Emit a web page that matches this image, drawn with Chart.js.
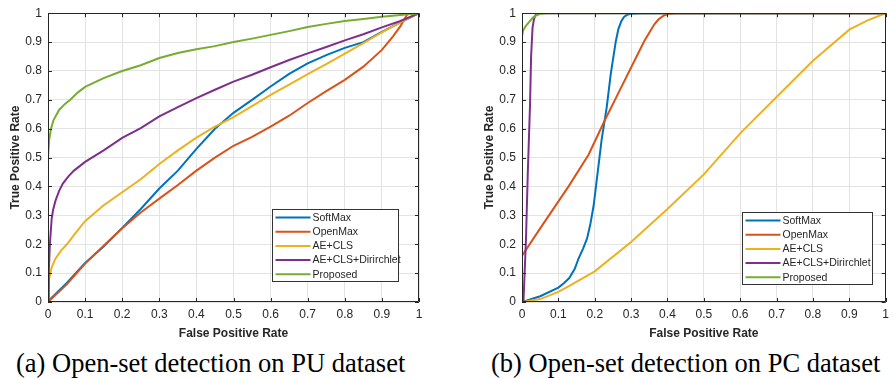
<!DOCTYPE html>
<html>
<head>
<meta charset="utf-8">
<script src="https://cdn.jsdelivr.net/npm/chart.js@4.4.1/dist/chart.umd.min.js"></script>
<style>
  body { margin: 0; background: #fff; width: 894px; height: 378px; overflow: hidden; position: relative; }
  .panel { position: absolute; top: 0; height: 345px; }
  .caption { position: absolute; top: 348px; font-family: "Liberation Serif", serif; font-size: 26.5px; color: #000; white-space: nowrap; }
</style>
</head>
<body>
<div class="panel" style="left:0; width:430px;"><canvas id="chartPU"></canvas></div>
<div class="panel" style="left:474px; width:420px;"><canvas id="chartPC"></canvas></div>
<div class="caption" style="left:16px;">(a) Open-set detection on PU dataset</div>
<div class="caption" style="left:491px;">(b) Open-set detection on PC dataset</div>

<script>
// Series names and axis tick labels
const seriesNames = ['SoftMax', 'OpenMax', 'AE+CLS', 'AE+CLS+Dirirchlet', 'Proposed'];
const tickLabels = ['0', '0.1', '0.2', '0.3', '0.4', '0.5', '0.6', '0.7', '0.8', '0.9', '1'];
const lineColors = ['#0072BD', '#D95319', '#EDB120', '#7E2F8E', '#77AC30'];

// (a) PU dataset - false positive rate / true positive rate
const puSoftmaxFpr = [0, 0.01, 0.05, 0.1, 0.15, 0.2, 0.25, 0.3, 0.35, 0.4, 0.45, 0.5, 0.55, 0.6, 0.65, 0.7, 0.75, 0.8, 0.85, 0.9, 0.95, 1];
const puSoftmaxTpr = [0, 0.015, 0.065, 0.135, 0.192, 0.256, 0.322, 0.393, 0.455, 0.53, 0.6, 0.655, 0.7, 0.746, 0.79, 0.826, 0.855, 0.88, 0.9, 0.935, 0.968, 1];

const puOpenmaxFpr = [0, 0.05, 0.1, 0.15, 0.2, 0.25, 0.3, 0.35, 0.4, 0.45, 0.5, 0.55, 0.6, 0.65, 0.7, 0.75, 0.8, 0.85, 0.9, 0.93, 0.95, 0.97, 1];
const puOpenmaxTpr = [0, 0.06, 0.133, 0.195, 0.255, 0.31, 0.358, 0.405, 0.455, 0.5, 0.541, 0.572, 0.607, 0.645, 0.689, 0.73, 0.769, 0.815, 0.873, 0.92, 0.955, 1, 1];

const puAeFpr = [0, 0.003, 0.01, 0.02, 0.035, 0.05, 0.075, 0.1, 0.15, 0.2, 0.25, 0.3, 0.35, 0.4, 0.45, 0.5, 0.55, 0.6, 0.65, 0.7, 0.75, 0.8, 0.85, 0.9, 0.95, 1];
const puAeTpr = [0, 0.08, 0.12, 0.15, 0.178, 0.198, 0.24, 0.28, 0.335, 0.38, 0.425, 0.478, 0.525, 0.569, 0.607, 0.64, 0.678, 0.717, 0.753, 0.789, 0.824, 0.86, 0.896, 0.934, 0.968, 1];

const puDirFpr = [0, 0.002, 0.005, 0.01, 0.014, 0.02, 0.03, 0.04, 0.055, 0.07, 0.1, 0.15, 0.2, 0.25, 0.3, 0.35, 0.4, 0.45, 0.5, 0.55, 0.6, 0.65, 0.7, 0.75, 0.8, 0.85, 0.9, 0.95, 1];
const puDirTpr = [0, 0.1, 0.2, 0.29, 0.32, 0.35, 0.385, 0.41, 0.435, 0.455, 0.485, 0.525, 0.568, 0.602, 0.643, 0.675, 0.706, 0.735, 0.763, 0.787, 0.813, 0.838, 0.861, 0.883, 0.906, 0.927, 0.951, 0.973, 1];

const puProposedFpr = [0, 0, 0.003, 0.008, 0.015, 0.03, 0.045, 0.06, 0.08, 0.1, 0.15, 0.2, 0.25, 0.3, 0.35, 0.4, 0.45, 0.5, 0.55, 0.6, 0.65, 0.7, 0.75, 0.8, 0.85, 0.9, 0.95, 1];
const puProposedTpr = [0, 0.5, 0.56, 0.6, 0.63, 0.665, 0.685, 0.7, 0.725, 0.745, 0.775, 0.8, 0.82, 0.845, 0.862, 0.875, 0.886, 0.9, 0.912, 0.925, 0.938, 0.952, 0.963, 0.973, 0.98, 0.988, 0.994, 1];

// (b) PC dataset
const pcSoftmaxFpr = [0, 0.05, 0.1, 0.115, 0.13, 0.145, 0.156, 0.168, 0.179, 0.188, 0.197, 0.208, 0.219, 0.233, 0.244, 0.258, 0.265, 0.273, 0.28, 0.288, 0.296, 0.31, 0.33, 1];
const pcSoftmaxTpr = [0, 0.02, 0.05, 0.065, 0.083, 0.115, 0.152, 0.185, 0.22, 0.27, 0.334, 0.448, 0.562, 0.675, 0.789, 0.903, 0.945, 0.972, 0.986, 0.994, 0.997, 0.999, 1, 1];

const pcOpenmaxFpr = [0, 0, 0.05, 0.129, 0.183, 0.228, 0.255, 0.3, 0.336, 0.363, 0.375, 0.39, 0.405, 0.426, 1];
const pcOpenmaxTpr = [0, 0.16, 0.255, 0.402, 0.51, 0.63, 0.698, 0.812, 0.903, 0.96, 0.978, 0.992, 0.998, 1, 1];

const pcAeFpr = [0, 0.05, 0.1, 0.129, 0.2, 0.3, 0.4, 0.5, 0.6, 0.7, 0.8, 0.9, 0.95, 1];
const pcAeTpr = [0, 0.01, 0.035, 0.055, 0.106, 0.208, 0.322, 0.442, 0.584, 0.71, 0.835, 0.943, 0.975, 1];

const pcDirFpr = [0, 0.004, 0.011, 0.016, 0.022, 0.025, 0.029, 0.033, 0.038, 0.05, 1];
const pcDirTpr = [0, 0, 0.22, 0.45, 0.68, 0.85, 0.95, 0.98, 0.995, 1, 1];

const pcProposedFpr = [0, 0, 0.003, 0.01, 0.02, 0.03, 0.04, 0.05, 0.07, 1];
const pcProposedTpr = [0, 0.92, 0.94, 0.955, 0.97, 0.985, 0.993, 0.998, 1, 1];

const puSeries = [[puSoftmaxFpr, puSoftmaxTpr], [puOpenmaxFpr, puOpenmaxTpr], [puAeFpr, puAeTpr], [puDirFpr, puDirTpr], [puProposedFpr, puProposedTpr]];
const pcSeries = [[pcSoftmaxFpr, pcSoftmaxTpr], [pcOpenmaxFpr, pcOpenmaxTpr], [pcAeFpr, pcAeTpr], [pcDirFpr, pcDirTpr], [pcProposedFpr, pcProposedTpr]];

const axisColor = '#262626';

// Box around the axes, inward ticks and legend box (MATLAB look)
const matlabFrame = {
    id: 'matlabFrame',
    afterDatasetsDraw(chart, args, opts) {
        const ctx = chart.ctx;
        const a = chart.chartArea;
        const sx = chart.scales.x, sy = chart.scales.y;
        ctx.save();
        ctx.strokeStyle = axisColor;
        ctx.lineWidth = 1;
        ctx.beginPath();
        ctx.rect(Math.round(a.left) + 0.5, Math.round(a.top) + 0.5, Math.round(a.right - a.left) - 1, Math.round(a.bottom - a.top) - 1);
        sx.ticks.forEach(t => {
            const x = Math.round(sx.getPixelForValue(t.value)) + 0.5;
            ctx.moveTo(x, a.bottom); ctx.lineTo(x, a.bottom - 4);
            ctx.moveTo(x, a.top); ctx.lineTo(x, a.top + 4);
        });
        sy.ticks.forEach(t => {
            const y = Math.round(sy.getPixelForValue(t.value)) + 0.5;
            ctx.moveTo(a.left, y); ctx.lineTo(a.left + 4, y);
            ctx.moveTo(a.right, y); ctx.lineTo(a.right - 4, y);
        });
        ctx.stroke();

        // legend
        const bx = Math.round(a.left + opts.x) + 0.5;
        const by = Math.round(a.top + opts.y) + 0.5;
        ctx.fillStyle = '#fff';
        ctx.fillRect(bx, by, opts.w, opts.h);
        ctx.strokeStyle = '#333';
        ctx.strokeRect(bx, by, opts.w, opts.h);
        ctx.font = '10.5px "Liberation Sans", Arial, sans-serif';
        ctx.textBaseline = 'middle';
        chart.data.datasets.forEach((ds, i) => {
            const ry = by + 8 + i * 14.2;
            ctx.strokeStyle = ds.borderColor;
            ctx.lineWidth = 2;
            ctx.beginPath();
            ctx.moveTo(bx + 3, ry); ctx.lineTo(bx + 38, ry);
            ctx.stroke();
            ctx.fillStyle = axisColor;
            ctx.fillText(ds.label, bx + 40, ry + 0.5);
        });
        ctx.restore();
    }
};

function makeChart(canvasId, series, padTop, padRight, legendBox) {
    const datasets = series.map((s, i) => ({
        label: seriesNames[i],
        data: s[0].map((x, k) => ({ x: x, y: s[1][k] })),
        borderColor: lineColors[i],
        borderWidth: 2,
        pointRadius: 0,
        tension: 0,
        fill: false,
        order: series.length - i
    }));

    return new Chart(document.getElementById(canvasId), {
        type: 'line',
        data: { datasets: datasets },
        plugins: [matlabFrame],
        options: {
            responsive: true,
            maintainAspectRatio: false,
            animation: false,
            devicePixelRatio: 1,
            layout: { autoPadding: false, padding: { top: padTop, right: padRight, bottom: 3, left: 0 } },
            plugins: {
                legend: { display: false },
                tooltip: { enabled: false },
                matlabFrame: legendBox
            },
            scales: {
                x: {
                    type: 'linear',
                    min: 0,
                    max: 1,
                    afterFit: scale => { scale.height = 40; },
                    border: { display: false },
                    grid: { color: '#e3e3e3', drawTicks: false },
                    ticks: {
                        stepSize: 0.1,
                        padding: 5,
                        maxRotation: 0,
                        color: axisColor,
                        font: { family: '"Liberation Sans", Arial, sans-serif', size: 12 },
                        callback: (v, i) => tickLabels[i]
                    },
                    title: {
                        display: true,
                        text: 'False Positive Rate',
                        color: axisColor,
                        font: { family: '"Liberation Sans", Arial, sans-serif', size: 12, weight: 'bold' },
                        padding: { top: 0, bottom: 1 }
                    }
                },
                y: {
                    type: 'linear',
                    min: 0,
                    max: 1,
                    afterFit: scale => { scale.width = 48; },
                    border: { display: false },
                    grid: { color: '#e3e3e3', drawTicks: false },
                    ticks: {
                        stepSize: 0.1,
                        padding: 6,
                        color: axisColor,
                        font: { family: '"Liberation Sans", Arial, sans-serif', size: 12 },
                        callback: (v, i) => tickLabels[i]
                    },
                    title: {
                        display: true,
                        text: 'True Positive Rate',
                        color: axisColor,
                        font: { family: '"Liberation Sans", Arial, sans-serif', size: 12, weight: 'bold' },
                        padding: { top: 8, bottom: 0 }
                    }
                }
            }
        }
    });
}

makeChart('chartPU', puSeries, 9, 11, { x: 224, y: 196, w: 126, h: 72 });
makeChart('chartPC', pcSeries, 10, 1, { x: 220, y: 199, w: 130, h: 72 });
</script>
</body>
</html>
